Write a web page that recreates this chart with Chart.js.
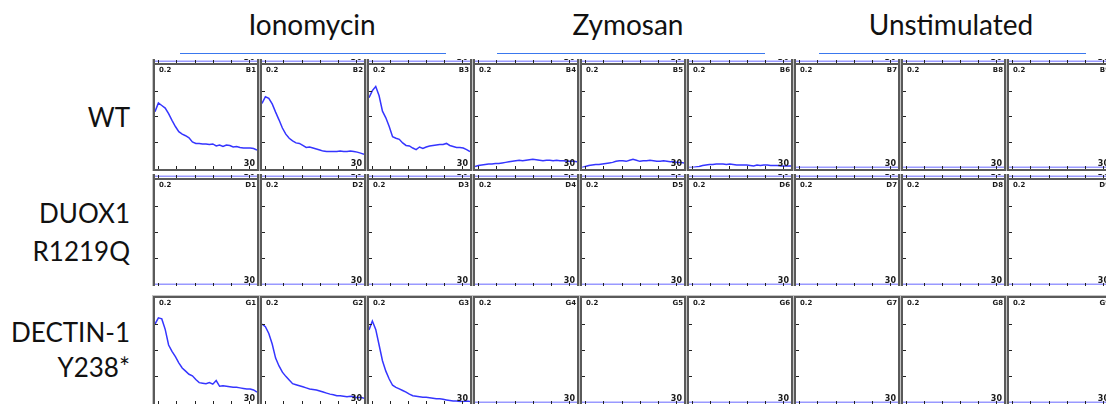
<!DOCTYPE html>
<html>
<head>
<meta charset="utf-8">
<script src="https://cdn.jsdelivr.net/npm/chart.js@4.4.1/dist/chart.umd.min.js"></script>
<style>
	body {
		margin: 0;
		width: 1106px;
		height: 404px;
		overflow: hidden;
		position: relative;
		background: #ffffff;
		font-family: Lato, "Open Sans", sans-serif;
		color: #111111;
	}
	.hdr {
		position: absolute;
		font-size: 28px;
		line-height: 28px;
		white-space: nowrap;
		transform: translateX(-50%);
	}
	.hline {
		position: absolute;
		height: 1px;
		background: #3a78ee;
	}
	.lbl {
		position: absolute;
		right: 976px;
		font-size: 26px;
		line-height: 26px;
		white-space: nowrap;
		text-align: right;
	}
	.row {
		position: absolute;
		left: 152px;
		width: 954px;
		overflow: hidden;
		background: #c4c4c4;
	}
	.panel {
		position: absolute;
		box-sizing: border-box;
		border: 2px solid #5a5a5a;
		background: #ffffff;
	}
	.panel canvas {
		display: block;
	}
</style>
</head>
<body>
<div id="plate"></div>
<script>
// Data block
const minutes = [0, 1, 2, 3, 4, 5, 6, 7, 8, 9, 10, 11, 12, 13, 14, 15, 16, 17, 18, 19, 20, 21, 22, 23, 24, 25, 26, 27, 28, 29, 30];
const yTopLabel = "0.2";
const xEndLabel = "30";
const yTickMarks = [0.05, 0.1, 0.15];
const xTickMarks = [1, 6.3, 11.7, 17, 22.4, 27.7];
const groups = ["Ionomycin", "Zymosan", "Unstimulated"];
const genotypes = [["WT"], ["DUOX1", "R1219Q"], ["DECTIN-1", "Y238*"]];
const plateRows = ["B", "D", "G"];
const ghostRows = ["A", "C"];
const wellCols = ["1", "2", "3", "4", "5", "6", "7", "8", "9"];

// WT, ionomycin
const wtB1 = [0.109, 0.126, 0.121, 0.116, 0.105, 0.092, 0.080, 0.070, 0.065, 0.062, 0.058, 0.050, 0.047, 0.047, 0.046, 0.046, 0.045, 0.046, 0.042, 0.044, 0.041, 0.044, 0.043, 0.040, 0.041, 0.039, 0.038, 0.038, 0.038, 0.037, 0.034];
const wtB2 = [0.125, 0.138, 0.135, 0.124, 0.108, 0.093, 0.077, 0.065, 0.057, 0.052, 0.048, 0.047, 0.043, 0.039, 0.040, 0.038, 0.036, 0.034, 0.032, 0.031, 0.031, 0.031, 0.031, 0.032, 0.031, 0.031, 0.032, 0.031, 0.030, 0.028, 0.026];
const wtB3 = [0.136, 0.150, 0.158, 0.140, 0.110, 0.097, 0.080, 0.060, 0.057, 0.055, 0.048, 0.043, 0.042, 0.038, 0.035, 0.040, 0.037, 0.040, 0.042, 0.043, 0.044, 0.045, 0.045, 0.047, 0.043, 0.041, 0.039, 0.039, 0.038, 0.035, 0.031];
// WT, zymosan
const wtB4 = [0.002, 0.004, 0.005, 0.006, 0.007, 0.007, 0.008, 0.008, 0.009, 0.010, 0.011, 0.012, 0.013, 0.014, 0.013, 0.014, 0.015, 0.016, 0.015, 0.014, 0.013, 0.014, 0.014, 0.013, 0.014, 0.013, 0.013, 0.012, 0.012, 0.012, 0.011];
const wtB5 = [0.000, 0.002, 0.004, 0.005, 0.006, 0.006, 0.007, 0.008, 0.009, 0.010, 0.012, 0.013, 0.013, 0.012, 0.014, 0.016, 0.014, 0.012, 0.013, 0.013, 0.014, 0.013, 0.012, 0.012, 0.013, 0.012, 0.011, 0.011, 0.010, 0.010, 0.009];
const wtB6 = [0.000, 0.000, 0.001, 0.002, 0.004, 0.005, 0.006, 0.006, 0.007, 0.007, 0.007, 0.006, 0.007, 0.006, 0.005, 0.005, 0.005, 0.005, 0.004, 0.003, 0.005, 0.004, 0.005, 0.005, 0.004, 0.004, 0.004, 0.003, 0.003, 0.003, 0.003];
// DECTIN-1 Y238*, ionomycin
const dcG1 = [0.150, 0.162, 0.160, 0.140, 0.110, 0.098, 0.088, 0.076, 0.066, 0.060, 0.054, 0.051, 0.044, 0.038, 0.037, 0.036, 0.038, 0.035, 0.042, 0.031, 0.032, 0.031, 0.030, 0.029, 0.029, 0.028, 0.027, 0.026, 0.026, 0.024, 0.020];
const dcG2 = [0.150, 0.145, 0.132, 0.112, 0.085, 0.070, 0.058, 0.050, 0.043, 0.036, 0.034, 0.032, 0.030, 0.028, 0.026, 0.025, 0.024, 0.022, 0.020, 0.018, 0.016, 0.015, 0.013, 0.013, 0.012, 0.011, 0.012, 0.011, 0.009, 0.010, 0.008];
const dcG3 = [0.139, 0.156, 0.140, 0.110, 0.080, 0.060, 0.045, 0.033, 0.029, 0.026, 0.023, 0.020, 0.016, 0.013, 0.012, 0.011, 0.010, 0.010, 0.009, 0.008, 0.007, 0.007, 0.006, 0.005, 0.004, 0.003, 0.003, 0.002, 0.002, 0.003, 0.002];
// no signal
const blank = [0, 0, 0, 0, 0, 0, 0, 0, 0, 0, 0, 0, 0, 0, 0, 0, 0, 0, 0, 0, 0, 0, 0, 0, 0, 0, 0, 0, 0, 0, 0];

const traces = {
	A: [blank, blank, blank, blank, blank, blank, blank, blank, blank],
	B: [wtB1, wtB2, wtB3, wtB4, wtB5, wtB6, blank, blank, blank],
	C: [blank, blank, blank, blank, blank, blank, blank, blank, blank],
	D: [blank, blank, blank, blank, blank, blank, blank, blank, blank],
	G: [dcG1, dcG2, dcG3, blank, blank, blank, blank, blank, blank],
};

// ticks + corner texts of each well
const wellFrame = {
	id: "wellFrame",
	afterDraw(chart, args, opts) {
		const ctx = chart.ctx;
		const x = chart.scales.x;
		const y = chart.scales.y;
		ctx.save();
		ctx.strokeStyle = "#222222";
		ctx.lineWidth = 1;
		ctx.beginPath();
		yTickMarks.forEach((v) => {
			const py = Math.round(y.getPixelForValue(v)) + 0.5;
			ctx.moveTo(0, py);
			ctx.lineTo(3, py);
		});
		xTickMarks.forEach((v) => {
			const px = Math.round(x.getPixelForValue(v)) + 0.5;
			ctx.moveTo(px, chart.height);
			ctx.lineTo(px, chart.height - 3);
		});
		ctx.stroke();
		ctx.fillStyle = "#1a1a1a";
		ctx.font = "bold 7px 'DejaVu Sans'";
		ctx.textBaseline = "top";
		ctx.textAlign = "left";
		ctx.fillText(yTopLabel, 4, 2);
		ctx.textAlign = "right";
		ctx.fillText(opts.well, chart.width - 1, 2);
		ctx.font = "bold 8px 'DejaVu Sans'";
		ctx.textBaseline = "bottom";
		ctx.fillText(xEndLabel, chart.width - 2, chart.height - 1);
		ctx.restore();
	},
};

function makePanel(rowEl, left, top, width, height, well, values, noBottom) {
	const box = document.createElement("div");
	box.className = "panel";
	box.style.left = left + "px";
	box.style.top = top + "px";
	box.style.width = width + "px";
	box.style.height = height + "px";
	if (noBottom) box.style.borderBottomWidth = "0";
	const cv = document.createElement("canvas");
	const w = width - 4;
	const h = height - (noBottom ? 2 : 4);
	cv.width = w;
	cv.height = h;
	cv.style.width = w + "px";
	cv.style.height = h + "px";
	box.appendChild(cv);
	rowEl.appendChild(box);

	// Config Block
	const config = {
		type: "line",
		data: {
			labels: minutes,
			datasets: [
				{
					data: values,
					borderColor: "#3535ff",
					borderWidth: 1.5,
					pointRadius: 0,
					tension: 0,
					fill: false,
				},
			],
		},
		options: {
			responsive: false,
			animation: false,
			devicePixelRatio: 1,
			layout: { padding: { left: 0, right: 0, top: 0, bottom: 1.5 } },
			plugins: {
				legend: { display: false },
				tooltip: { enabled: false },
				wellFrame: { well: well },
			},
			scales: {
				x: { type: "linear", min: 0, max: 30, display: false },
				y: { min: 0, max: 0.2, display: false },
			},
		},
		plugins: [wellFrame],
	};

	// Render Block
	new Chart(cv, config);
}

// left edge of a well column, relative to the plate rows
function colLeft(i) {
	return Math.round(1 + i * 106.8);
}

function makeRow(top, height, realTop, realHeight, plateRow, ghostRow) {
	const rowEl = document.createElement("div");
	rowEl.className = "row";
	rowEl.style.top = top + "px";
	rowEl.style.height = height + "px";
	document.getElementById("plate").appendChild(rowEl);
	wellCols.forEach((c, i) => {
		const left = colLeft(i);
		const width = colLeft(i + 1) - left - 1;
		if (ghostRow) {
			makePanel(rowEl, left, realTop - 107, width, 107, ghostRow + c, traces[ghostRow][i], true);
		}
		makePanel(rowEl, left, realTop, width, realHeight, plateRow + c, traces[plateRow][i], false);
	});
}

makeRow(59, 112, 4, 108, plateRows[0], ghostRows[0]);
makeRow(174, 112, 4, 110, plateRows[1], ghostRows[1]);
makeRow(295, 109, 1, 110, plateRows[2], null);

// headers
const hdrCenters = [312, 628, 951];
const hdrLines = [[180, 446], [497, 765], [819, 1086]];
groups.forEach((g, i) => {
	const t = document.createElement("div");
	t.className = "hdr";
	t.style.left = hdrCenters[i] + "px";
	t.style.top = "10px";
	t.textContent = g;
	document.body.appendChild(t);
	const l = document.createElement("div");
	l.className = "hline";
	l.style.left = hdrLines[i][0] + "px";
	l.style.width = hdrLines[i][1] - hdrLines[i][0] + "px";
	l.style.top = "53px";
	document.body.appendChild(l);
});

// row labels
const lblTops = [[104], [200, 238], [319, 354]];
genotypes.forEach((lines, r) => {
	lines.forEach((s, k) => {
		const d = document.createElement("div");
		d.className = "lbl";
		d.style.top = lblTops[r][k] + "px";
		d.textContent = s;
		document.body.appendChild(d);
	});
});
</script>
</body>
</html>
